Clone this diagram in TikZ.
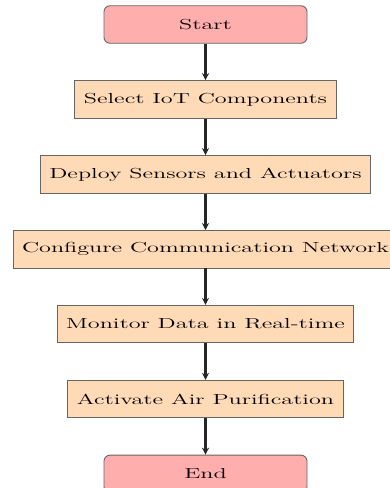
\documentclass[tikz,border=0pt]{standalone}
\usetikzlibrary{positioning,arrows.meta}

\definecolor{EndsColor}{RGB}{255,174,174}
\definecolor{StepColor}{RGB}{255,218,182}

\newcommand{\widetext}[1]{\scalebox{1.67}[1]{#1}}

\begin{document}
\begin{tikzpicture}[x=1pt,y=1pt,
	node distance=36.5pt,
	font=\fontsize{14.5}{17}\selectfont,
	startstop/.style={rectangle, rounded corners=6pt, minimum width=203pt, minimum height=37.5pt, draw=black!60, line width=0.9pt, fill=EndsColor},
	process/.style={rectangle, minimum height=37.5pt, inner xsep=9pt, draw=black!60, line width=0.9pt, fill=StepColor},
	arrow/.style={-{Stealth[length=7pt,width=7pt]}, line width=2.3pt, black!85}]

	\useasboundingbox (0,0) rectangle (390,-488);

	% Nodes

	\node [startstop] (start) at (205.5,-24.5) {\widetext{Start}};
	\node [process, below=of start] (select) {\widetext{Select IoT Components}};
	\node [process, below=of select] (deploy) {\widetext{Deploy Sensors and Actuators}};
	\node [process, below=of deploy] (config) {\widetext{Configure Communication Network}};
	\node [process, below=of config] (monitor) {\widetext{Monitor Data in Real-time}};
	\node [process, below=of monitor] (activate) {\widetext{Activate Air Purification}};
	\node [startstop, below=of activate] (end) {\widetext{End}};

	% Arrows

	\draw [arrow] (start) -- (select);
	\draw [arrow] (select) -- (deploy);
	\draw [arrow] (deploy) -- (config);
	\draw [arrow] (config) -- (monitor);
	\draw [arrow] (monitor) -- (activate);
	\draw [arrow] (activate) -- (end);

\end{tikzpicture}
\end{document}
